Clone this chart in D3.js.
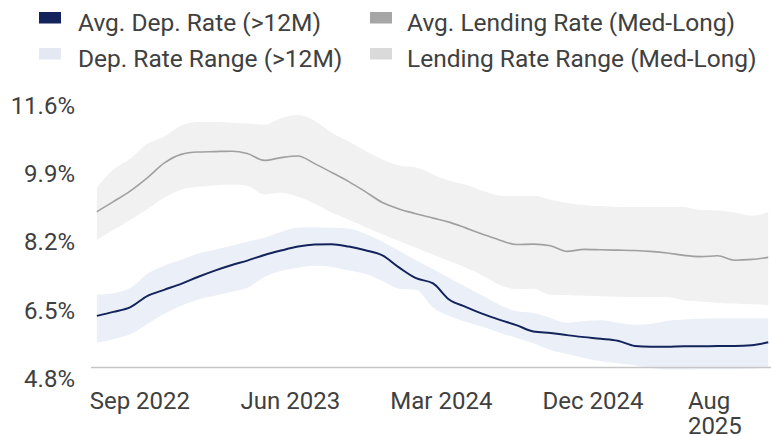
<!DOCTYPE html>
<html>
<head>
<meta charset="utf-8">
<script src="https://cdn.jsdelivr.net/npm/d3@7"></script>
<style>
  body { margin: 0; background: #fff; }
  svg { display: block; font-family: Roboto, "Liberation Sans", sans-serif; }
  .tick-label { fill: #404040; font-size: 24px; }
  .legend-label { fill: #404040; font-size: 24.5px; }
</style>
</head>
<body>
<svg id="chart" width="771" height="436"></svg>
<script>
// monthly observations (mid-month), Jun 2022 .. Oct 2025
const months = [
  "2022-06","2022-07","2022-08","2022-09","2022-10","2022-11","2022-12",
  "2023-01","2023-02","2023-03","2023-04","2023-05","2023-06","2023-07","2023-08","2023-09","2023-10","2023-11","2023-12",
  "2024-01","2024-02","2024-03","2024-04","2024-05","2024-06","2024-07","2024-08","2024-09","2024-10","2024-11","2024-12",
  "2025-01","2025-02","2025-03","2025-04","2025-05","2025-06","2025-07","2025-08","2025-09","2025-10"
];

const depAvg = [
  6.35,6.45,6.57,6.85,7.00,7.15,7.32,
  7.48,7.62,7.73,7.87,7.98,8.08,8.13,8.14,8.08,7.99,7.86,7.56,
  7.29,7.16,6.76,6.57,6.40,6.25,6.12,5.96,5.92,5.87,5.82,5.78,
  5.73,5.60,5.58,5.58,5.59,5.59,5.60,5.60,5.62,5.69
];
const depLow = [
  5.68,5.77,5.89,6.15,6.40,6.60,6.75,
  6.85,6.95,7.05,7.32,7.47,7.55,7.60,7.57,7.48,7.40,7.22,7.03,
  7.00,6.55,6.35,6.20,6.08,5.93,5.80,5.67,5.50,5.40,5.30,5.22,
  5.17,5.12,5.05,5.01,5.01,5.02,5.02,5.02,5.03,5.07
];
const depHigh = [
  6.88,6.92,7.05,7.40,7.60,7.75,7.90,
  8.00,8.10,8.20,8.30,8.45,8.55,8.56,8.55,8.53,8.40,8.20,7.98,
  7.74,7.52,7.30,7.07,6.85,6.62,6.47,6.42,6.30,6.18,6.22,6.24,
  6.18,6.13,6.15,6.23,6.26,6.28,6.29,6.29,6.29,6.29
];

const lendAvg = [
  8.95,9.20,9.47,9.80,10.16,10.38,10.44,
  10.45,10.46,10.40,10.23,10.30,10.34,10.15,9.93,9.70,9.45,9.18,9.02,
  8.90,8.79,8.69,8.54,8.39,8.24,8.13,8.14,8.10,7.96,8.01,8.00,
  7.99,7.98,7.96,7.92,7.86,7.83,7.85,7.74,7.76,7.81
];
const lendLow = [
  8.25,8.50,8.75,9.02,9.30,9.50,9.57,
  9.61,9.63,9.60,9.38,9.42,9.32,9.15,8.93,8.75,8.57,8.39,8.22,
  8.05,7.88,7.72,7.55,7.35,7.12,7.02,7.03,6.88,6.87,6.85,6.84,
  6.83,6.82,6.82,6.82,6.74,6.71,6.68,6.66,6.64,6.62
];
const lendHigh = [
  9.55,10.00,10.28,10.65,10.82,11.10,11.19,
  11.19,11.17,11.15,11.12,11.28,11.36,11.22,10.92,10.70,10.47,10.25,10.10,
  10.05,9.88,9.73,9.62,9.47,9.35,9.34,9.35,9.25,9.17,9.12,9.09,
  9.07,9.07,9.07,9.07,9.07,8.99,8.98,8.93,8.85,8.94
];

const yTicks = [4.8, 6.5, 8.2, 9.9, 11.6];
const xTicks = ["2022-09-01", "2023-06-01", "2024-03-01", "2024-12-01", "2025-08-01"];
const xExtent = ["2022-06-08", "2025-10-20"];

const legendItems = [
  { label: "Avg. Dep. Rate (>12M)", color: "#13235b" },
  { label: "Avg. Lending Rate (Med-Long)", color: "#a6a6a6" },
  { label: "Dep. Rate Range (>12M)", color: "#e3e8f3" },
  { label: "Lending Rate Range (Med-Long)", color: "#dadada" }
];

const svg = d3.select('#chart');
const parseDay = d3.timeParse('%Y-%m-%d');
const parseMonth = d3.timeParse('%Y-%m');

const data = months.map((m, i) => ({
  date: d3.timeDay.offset(parseMonth(m), 14),
  depAvg: depAvg[i], depLow: depLow[i], depHigh: depHigh[i],
  lendAvg: lendAvg[i], lendLow: lendLow[i], lendHigh: lendHigh[i]
}));

const x = d3.scaleTime()
  .domain(xExtent.map(parseDay))
  .range([93, 771]);

const y = d3.scaleLinear()
  .domain([4.8, 11.6])
  .range([378, 105.5]);

const curve = d3.curveMonotoneX;

const band = (lo, hi) => d3.area()
  .curve(curve)
  .x(d => x(d.date))
  .y0(d => y(d[lo]))
  .y1(d => y(d[hi]));

const line = key => d3.line()
  .curve(curve)
  .x(d => x(d.date))
  .y(d => y(d[key]));

svg.append('path')
  .datum(data)
  .attr('fill', '#f1f1f1')
  .attr('d', band('lendLow', 'lendHigh'));

svg.append('path')
  .datum(data)
  .attr('fill', '#ebf0f8')
  .attr('d', band('depLow', 'depHigh'));

// x baseline
svg.append('line')
  .attr('x1', 91).attr('x2', 771)
  .attr('y1', 367.5).attr('y2', 367.5)
  .attr('stroke', '#c6c6c6')
  .attr('stroke-width', 1.5);

svg.append('path')
  .datum(data)
  .attr('fill', 'none')
  .attr('stroke', '#a0a0a0')
  .attr('stroke-width', 1.6)
  .attr('d', line('lendAvg'));

svg.append('path')
  .datum(data)
  .attr('fill', 'none')
  .attr('stroke', '#13235b')
  .attr('stroke-width', 2)
  .attr('d', line('depAvg'));

// y labels
svg.selectAll('.ylab')
  .data(yTicks)
  .enter().append('text')
  .attr('class', 'tick-label')
  .attr('x', 75)
  .attr('y', d => y(d))
  .attr('dy', '0.36em')
  .attr('text-anchor', 'end')
  .text(d => d.toFixed(1) + '%');

// x labels
const fmt = d3.timeFormat('%b %Y');
const xt = xTicks.map(parseDay);
xt.forEach((d, i) => {
  const t = svg.append('text')
    .attr('class', 'tick-label')
    .attr('y', 409);
  if (i === xt.length - 1) {
    // last label wraps at the right edge
    const parts = fmt(d).split(' ');
    t.attr('text-anchor', 'start');
    parts.forEach((p, j) => {
      t.append('tspan')
        .attr('x', x(d) - 39)
        .attr('dy', j ? 25 : 0)
        .text(p);
    });
  } else {
    t.attr('x', x(d))
      .attr('text-anchor', 'middle')
      .text(fmt(d));
  }
});

// legend
const legend = svg.selectAll('.legend')
  .data(legendItems)
  .enter().append('g')
  .attr('class', 'legend')
  .attr('transform', (d, i) => 'translate(' + (i % 2 ? 370 : 39) + ',' + (i < 2 ? 12 : 48) + ')');

legend.append('rect')
  .attr('width', 22)
  .attr('height', 11.5)
  .attr('fill', d => d.color);

legend.append('text')
  .attr('class', 'legend-label')
  .attr('x', (d, i) => i % 2 ? 37 : 39)
  .attr('y', 18.5)
  .text(d => d.label);
</script>
</body>
</html>
